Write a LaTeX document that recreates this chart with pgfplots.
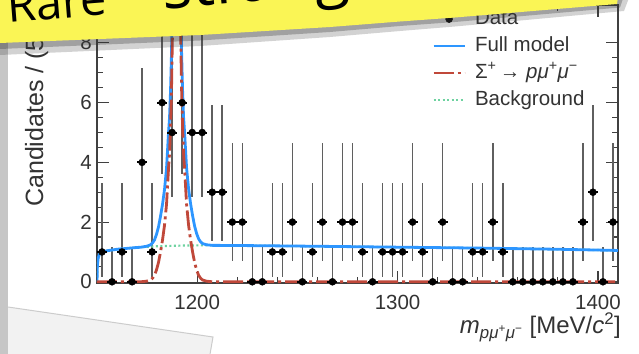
\documentclass[border=0pt]{standalone}
\usepackage{fontspec}
\setmainfont{Liberation Sans}
\newfontfamily\bannerfont{Open Sans}
\usepackage{pgfplots}
\pgfplotsset{compat=1.18}
\usepackage{pgfplotstable}
\definecolor{fullblue}{RGB}{45,150,255}
\definecolor{sigred}{RGB}{192,72,58}
\definecolor{bkggreen}{RGB}{110,210,160}
\definecolor{bannery}{RGB}{250,245,85}
\definecolor{barcol}{RGB}{95,95,95}
\pgfplotsset{
  lineleg/.style={legend image code/.code={\draw[##1] (0pt,0pt) -- (31pt,0pt);}},
  dotleg/.style={legend image code/.code={\draw[##1] plot coordinates {(15.5pt,0pt)};}},
}

\pgfplotstableread{
x y ep em
1152.5 1 2.30 0.827
1157.5 0 1.15 0
1162.5 1 2.30 0.827
1167.5 0 1.15 0
1172.5 4 3.163 1.914
1177.5 1 2.30 0.827
1182.5 6 3.584 2.380
1187.5 5 3.382 2.160
1192.5 6 3.584 2.380
1197.5 5 3.382 2.160
1202.5 5 3.382 2.160
1207.5 3 2.918 1.633
1212.5 3 2.918 1.633
1217.5 2 2.64 1.292
1222.5 2 2.64 1.292
1227.5 0 1.15 0
1232.5 0 1.15 0
1237.5 1 2.30 0.827
1242.5 1 2.30 0.827
1247.5 2 2.64 1.292
1252.5 0 1.15 0
1257.5 1 2.30 0.827
1262.5 2 2.64 1.292
1267.5 0 1.15 0
1272.5 2 2.64 1.292
1277.5 2 2.64 1.292
1282.5 1 2.30 0.827
1287.5 0 1.15 0
1292.5 1 2.30 0.827
1297.5 1 2.30 0.827
1302.5 1 2.30 0.827
1307.5 2 2.64 1.292
1312.5 1 2.30 0.827
1317.5 0 1.15 0
1322.5 2 2.64 1.292
1327.5 0 1.15 0
1332.5 0 1.15 0
1337.5 1 2.30 0.827
1342.5 1 2.30 0.827
1347.5 2 2.64 1.292
1352.5 1 2.30 0.827
1357.5 0 1.15 0
1362.5 0 1.15 0
1367.5 0 1.15 0
1372.5 0 1.15 0
1377.5 0 1.15 0
1382.5 0 1.15 0
1387.5 0 1.15 0
1392.5 2 2.64 1.292
1397.5 3 2.918 1.633
1402.5 0 1.15 0
1407.5 2 2.64 1.292
}\datatable

\pgfplotstableread{
x y
1150.0 0
1150.2 0.55
1150.6 0.8
1151.2 0.92
1152 0.98
1155 1.04
1160 1.09
1165 1.12
1170 1.15
1180 1.19
1190 1.21
1200 1.22
1210 1.22
1230 1.21
1260 1.19
1300 1.16
1340 1.13
1380 1.09
1410 1.05
}\bkgtable

\pgfplotstableread{
x y
1150 0
1171.7 0
1174.7 0.02
1176.7 0.06
1177.7 0.12
1178.7 0.22
1179.7 0.4
1180.7 0.65
1181.7 1.0
1182.7 1.4
1183.7 1.9
1184.7 2.6
1185.2 3.2
1185.7 3.8
1186.2 4.3
1186.7 5.2
1187.2 6.5
1187.7 8.5
1188.2 11
1188.7 15
1189.2 18
1189.7 20
1190.2 18
1190.7 15
1191.2 11
1191.7 8.5
1192.2 6.5
1192.7 5.2
1193.2 4.3
1193.7 3.8
1194.2 3.2
1194.7 2.6
1195.7 1.9
1196.7 1.4
1197.7 1.0
1198.7 0.65
1199.7 0.4
1200.7 0.22
1201.7 0.12
1202.7 0.06
1204.7 0.02
1207.7 0
1410 0
}\sigtable

\pgfplotstableread{
x y
1150.0 0
1150.2 0.55
1150.6 0.8
1151.2 0.92
1152 0.98
1155 1.04
1160 1.09
1165 1.12
1170 1.15
1171.7 1.157
1174.7 1.189
1176.7 1.237
1177.7 1.301
1178.7 1.405
1179.7 1.589
1180.7 1.841
1181.7 2.193
1182.7 2.595
1183.7 3.097
1184.7 3.799
1185.2 4.40
1185.7 5.001
1186.2 5.502
1186.7 6.403
1187.2 7.704
1187.7 9.705
1188.2 12.206
1188.7 16.207
1189.2 19.208
1189.7 21.209
1190.2 19.21
1190.7 16.211
1191.2 12.211
1191.7 9.712
1192.2 7.712
1192.7 6.413
1193.2 5.513
1193.7 5.014
1194.2 4.415
1194.7 3.815
1195.7 3.116
1196.7 2.617
1197.7 2.218
1198.7 1.869
1199.7 1.62
1200.7 1.44
1201.7 1.34
1202.7 1.28
1204.7 1.24
1207.7 1.22
1210 1.22
1230 1.21
1260 1.19
1300 1.16
1340 1.13
1380 1.09
1410 1.05
}\fulltable

\begin{document}
\begin{tikzpicture}
\useasboundingbox (-97pt,-70pt) rectangle (542pt,283pt);
\clip (-97pt,-70pt) rectangle (542pt,283pt);
\fill[white] (-97pt,-70pt) rectangle (542pt,283pt);
\begin{scope}[x=1pt,y=-1pt,shift={(-97pt,283pt)}]
  \fill[gray!10] (8,307) -- (213,337) -- (209,360) -- (8,360) -- cycle;
  \draw[gray!40, line width=1pt] (8,307) -- (213,337) -- (209,360);
  \fill[gray!45] (-2,-2) rectangle (8,360);
\end{scope}
\begin{axis}[
  scale only axis, width=521pt, height=278pt,
  xmin=1150, xmax=1410, ymin=-0.04, ymax=9.27,
  xtick={1200,1300,1400}, minor x tick num=4,
  ytick={0,2,4,6,8}, minor y tick num=3,
  tick align=inside,
  major tick length=12pt, minor tick length=6pt,
  axis line style={black!75, line width=1.2pt},
  every tick/.style={black!75, line width=1.1pt},
  /pgf/number format/assume math mode=true,
  /pgf/number format/1000 sep={},
  ticklabel style={font=\fontsize{20.5}{24}\selectfont, text=black!80},
  xticklabel style={inner sep=0pt, yshift=-11.5pt},
  yticklabel style={inner sep=0pt, xshift=-5pt},
  xlabel={\textit{m}\textsubscript{\textit{pμ}\textsuperscript{+}\textit{μ}\textsuperscript{−}} [MeV/\textit{c}\textsuperscript{2}]},
  xlabel style={at={(axis description cs:1,0)}, anchor=north east, inner sep=0pt, yshift=-30pt, xshift=3pt, font=\fontsize{24}{26}\selectfont, text=black!80},
  ylabel={Candidates / (5 MeV/\textit{c}\textsuperscript{2})},
  ylabel style={at={(axis description cs:-0.119,0.2734)}, anchor=west, inner sep=0pt, font=\fontsize{25}{27}\selectfont, text=black!80},
  legend style={at={(axis description cs:0.643,0.986)}, anchor=north west, draw=none, fill=none, inner sep=0pt, row sep=7pt, column sep=9pt,
    nodes={inner sep=0pt, text height=15pt, text depth=5pt, font=\fontsize{20.5}{24}\selectfont, text=black!80}},
  legend cell align=left,
]
\addlegendimage{dotleg, only marks, mark=*, mark size=3.5pt, black}
\addlegendentry{Data}
\addlegendimage{lineleg, fullblue, line width=2.8pt}
\addlegendentry{Full model}
\addlegendimage{lineleg, sigred, line width=2.8pt, dash pattern=on 20pt off 4pt on 3pt off 4pt}
\addlegendentry{Σ\textsuperscript{+}\,→ \textit{pμ}\textsuperscript{+}\textit{μ}\textsuperscript{−}}
\addlegendimage{lineleg, bkggreen, line width=2.2pt, dash pattern=on 2pt off 2.5pt}
\addlegendentry{Background}

\addplot[forget plot, only marks, mark=none,
  error bars/.cd, y dir=both, y explicit, error mark=none,
  error bar style={draw=barcol, line width=1.5pt}]
  table[x=x, y=y, y error plus=ep, y error minus=em] {\datatable};
\addplot[forget plot, bkggreen, line width=2.2pt, dash pattern=on 2pt off 2.5pt] table[x=x,y=y] {\bkgtable};
\addplot[forget plot, fullblue, line width=2.8pt] table[x=x,y=y] {\fulltable};
\addplot[forget plot, sigred, line width=2.8pt, dash pattern=on 20pt off 4pt on 3pt off 4pt] table[x=x,y=y] {\sigtable};
\addplot[forget plot, only marks, mark=*, mark size=3.5pt, black,
  error bars/.cd, x dir=both, x fixed=2.5, error mark=none,
  error bar style={draw=black, line width=2pt}]
  table[x=x, y=y] {\datatable};
\end{axis}
\begin{scope}[x=1pt,y=-1pt,shift={(-97pt,283pt)}]
  \fill[black!80, opacity=0.22] (-5,55) -- (0,55) -- (200,46) -- (330,37) -- (400,31) -- (455,26.5) -- (624,11) -- (632,-10) -- (-5,-10) -- cycle;
  \fill[black!80, opacity=0.3] (-5,49) -- (0,49) -- (200,40.5) -- (330,32) -- (400,26) -- (455,22) -- (620,7.5) -- (626,-10) -- (-5,-10) -- cycle;
  \fill[bannery] (-5,43.2) -- (0,43) -- (200,35) -- (330,27) -- (400,21.5) -- (455,17.5) -- (617,4) -- (619,-10) -- (-5,-10) -- cycle;
  \node[anchor=base west, rotate=4.5, inner sep=0pt, text=black] at (8,22.7) {\bannerfont\fontsize{47}{47}\selectfont Rare};
  \node[anchor=base west, rotate=5, inner sep=0pt, text=black] at (163,9.5) {\bannerfont\fontsize{64}{64}\selectfont strange};
\end{scope}
\end{tikzpicture}
\end{document}
